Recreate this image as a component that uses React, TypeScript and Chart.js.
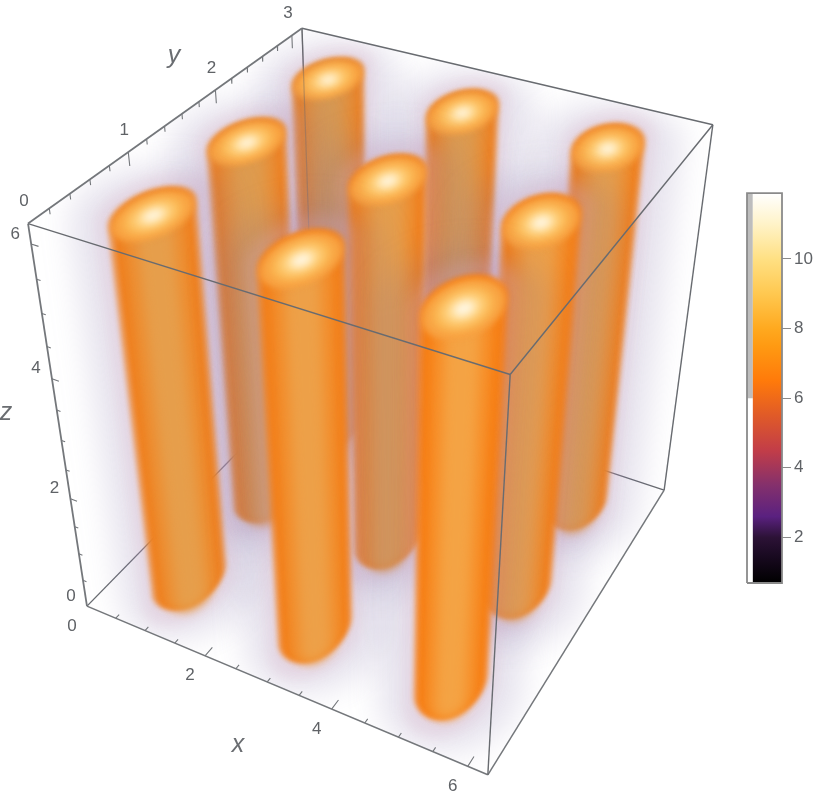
import React, { useEffect, useRef } from "react";
import { Chart, registerables } from "chart.js";

// ---- data (volume field: bright columns on a 3x3 grid) ----
const columnX = [1.05, 3.14, 5.24];
const columnY = [0.52, 1.57, 2.62];
const columnBottom = 0.15;
const columnTop = 6.2;
const boxX = 6.283;
const boxY = 3.142;
const boxZ = 6.283;
const radiusX = 0.42;
const radiusY = 0.33;

const xMajor = [0, 2, 4, 6];
const yMajor = [0, 1, 2, 3];
const zMajor = [0, 2, 4, 6];
const xMinor = [0.5, 1, 1.5, 2.5, 3, 3.5, 4.5, 5, 5.5];
const yMinor = [0.2, 0.4, 0.6, 0.8, 1.2, 1.4, 1.6, 1.8, 2.2, 2.4, 2.6, 2.8];
const zMinor = [0.5, 1, 1.5, 2.5, 3, 3.5, 4.5, 5, 5.5];

const barMin = 0.69;
const barMax = 11.89;
const barOpacityFrom = 6;
const barStops: [number, string][] = [
  [0.69, "#000000"], [1.5, "#1a0a22"], [2.0, "#2c1236"], [2.6, "#5a2180"], [3.5, "#84306c"],
  [4.5, "#c23d48"], [5.5, "#e05a28"], [6.5, "#ff7a0a"], [7.5, "#ff9a12"], [8.0, "#ffa91f"],
  [9.0, "#ffc850"], [10.0, "#ffe083"], [11.0, "#fff3c8"], [11.89, "#ffffff"],
];

// ---- camera calibration: box corner (x, y, z) -> where it sits on the page ----
const calib: [number, number, number, number, number][] = [
  [0, 0, 0, 87, 606], [boxX, 0, 0, 488, 775], [boxX, boxY, 0, 664, 490], [0, 0, boxZ, 28, 224],
  [boxX, 0, boxZ, 510, 374], [boxX, boxY, boxZ, 713, 125], [0, boxY, boxZ, 302, 28],
];

function solveCamera(): number[] {
  const rows: number[][] = [];
  const rhs: number[] = [];
  for (const [X, Y, Z, u0, v0] of calib) {
    const u = u0 / 800, v = v0 / 800;
    rows.push([X, Y, Z, 1, 0, 0, 0, 0, -u * X, -u * Y, -u * Z]); rhs.push(u);
    rows.push([0, 0, 0, 0, X, Y, Z, 1, -v * X, -v * Y, -v * Z]); rhs.push(v);
  }
  const n = 11;
  const A: number[][] = [];
  for (let i = 0; i < n; i++) {
    const r: number[] = [];
    for (let j = 0; j < n; j++) r.push(rows.reduce((s, row) => s + row[i] * row[j], 0));
    r.push(rows.reduce((s, row, k) => s + row[i] * rhs[k], 0));
    A.push(r);
  }
  for (let c = 0; c < n; c++) {
    let p = c;
    for (let r = c + 1; r < n; r++) if (Math.abs(A[r][c]) > Math.abs(A[p][c])) p = r;
    [A[c], A[p]] = [A[p], A[c]];
    for (let r = 0; r < n; r++) {
      if (r === c) continue;
      const f = A[r][c] / A[c][c];
      for (let k = c; k <= n; k++) A[r][k] -= f * A[c][k];
    }
  }
  return A.map((r, i) => r[n] / r[i]);
}
const cam = solveCamera();
function project(X: number, Y: number, Z: number) {
  const w = cam[8] * X + cam[9] * Y + cam[10] * Z + 1;
  return {
    x: (800 * (cam[0] * X + cam[1] * Y + cam[2] * Z + cam[3])) / w,
    y: (800 * (cam[4] * X + cam[5] * Y + cam[6] * Z + cam[7])) / w,
  };
}

type P = { x: number; y: number };
function hull(pts: P[]): P[] {
  const s = [...pts].sort((a, b) => a.x - b.x || a.y - b.y);
  const cross = (o: P, a: P, b: P) => (a.x - o.x) * (b.y - o.y) - (a.y - o.y) * (b.x - o.x);
  const lo: P[] = [];
  for (const p of s) {
    while (lo.length >= 2 && cross(lo[lo.length - 2], lo[lo.length - 1], p) <= 0) lo.pop();
    lo.push(p);
  }
  const up: P[] = [];
  for (const p of [...s].reverse()) {
    while (up.length >= 2 && cross(up[up.length - 2], up[up.length - 1], p) <= 0) up.pop();
    up.push(p);
  }
  return lo.slice(0, -1).concat(up.slice(0, -1));
}
function ring(cx: number, cy: number, z: number, sx: number, sy = sx): P[] {
  const out: P[] = [];
  for (let i = 0; i < 48; i++) {
    const a = (i / 48) * Math.PI * 2;
    out.push(project(cx + sx * radiusX * Math.cos(a), cy + sy * radiusY * Math.sin(a), z));
  }
  return out;
}
function mix(a: number[], b: number[], t: number, alpha = 1) {
  const c = a.map((v, i) => Math.round(v + (b[i] - v) * t));
  return `rgba(${c[0]},${c[1]},${c[2]},${alpha})`;
}

const lineColor = "#686b70";
function lineDs(points: P[], width = 1.4, color = lineColor) {
  return {
    data: points, showLine: true, pointRadius: 0, borderWidth: width, borderColor: color,
    fill: false, tension: 0, clip: false, spanGaps: false,
  };
}
function shapeDs(points: P[], color: string, blur: number, clipBox = false) {
  return {
    data: points, showLine: true, pointRadius: 0, borderWidth: 0, borderColor: "transparent",
    backgroundColor: color, fill: "shape", tension: 0, blur, clipBox,
  };
}
function edge(a: number[], b: number[], width = 1.4, color = lineColor) {
  return lineDs([project(a[0], a[1], a[2]), project(b[0], b[1], b[2])], width, color);
}
function tickPath(list: [number[], number[]][], width: number) {
  const pts: P[] = [];
  for (const [a, b] of list) {
    pts.push(project(a[0], a[1], a[2]), project(b[0], b[1], b[2]), { x: NaN, y: NaN });
  }
  return lineDs(pts, width, "#74777b");
}

function buildDatasets() {
  const ds: any[] = [];
  // back box edges, behind the volume
  ds.push(edge([0, boxY, 0], [0, boxY, boxZ]), edge([0, 0, 0], [0, boxY, 0]), edge([0, boxY, 0], [boxX, boxY, 0]));

  const cols: { x: number; y: number; t: number }[] = [];
  for (const x of columnX) for (const y of columnY) cols.push({ x, y, t: ((boxX - x) / boxX + y / boxY) / 2 });
  cols.sort((a, b) => b.t - a.t);

  cols.forEach((c, idx) => {
    const silhouette = (s: number, drop = 0) =>
      hull([...ring(c.x, c.y, columnBottom - drop, s), ...ring(c.x, c.y, columnTop, s)]);
    const cap = (s: number) => ring(c.x, c.y, columnTop - 0.05, s);
    const f = Math.max(0, (c.t - 0.15) / 0.7);
    const wide = (sx: number, sy: number) =>
      hull([...ring(c.x, c.y, 0, sx, sy), ...ring(c.x, c.y, boxZ, sx, sy)]);
    ds.push(shapeDs(wide(2.2, 1.65), "rgba(125,112,165,0.19)", 15, true));
    ds.push(shapeDs(wide(1.3, 1.3), "rgba(215,170,195,0.26)", 7, true));
    ds.push(shapeDs(silhouette(1.04), mix([246, 130, 28], [230, 138, 58], f, 0.75), 2.5));
    ds.push(shapeDs(silhouette(0.92, 0.05), mix([246, 126, 20], [232, 130, 42], f), 2));
    ds.push(shapeDs(silhouette(0.72, 0.2), mix([247, 142, 40], [226, 142, 60], f), 5));
    ds.push(shapeDs(silhouette(0.42, 0.38), mix([245, 163, 68], [214, 152, 82], f), 6));
    ds.push(shapeDs(cap(0.98), "#f8a040", 3));
    ds.push(shapeDs(cap(0.75), "#fbb650", 5));
    ds.push(shapeDs(cap(0.5), "#ffd98c", 5.5));
    ds.push(shapeDs(cap(0.25), "#fff6e2", 4));
    // the rear vertical edge shows faintly through the rearmost column
    if (idx === 0) ds.push(edge([0, boxY, boxZ * 0.45], [0, boxY, boxZ], 1.2, "rgba(100,100,100,0.4)"));
  });

  // front box edges and ticks
  ds.push(
    edge([0, 0, 0], [boxX, 0, 0], 1.6, "#74777b"), edge([boxX, 0, 0], [boxX, boxY, 0], 1.5, "#74777b"),
    edge([0, 0, 0], [0, 0, boxZ], 1.8, "#74777b"),
    edge([boxX, 0, 0], [boxX, 0, boxZ]), edge([boxX, boxY, 0], [boxX, boxY, boxZ]),
    edge([0, 0, boxZ], [boxX, 0, boxZ]), edge([boxX, 0, boxZ], [boxX, boxY, boxZ]),
    edge([boxX, boxY, boxZ], [0, boxY, boxZ]), edge([0, boxY, boxZ], [0, 0, boxZ], 1.8, "#74777b"),
  );
  ds.push(tickPath(xMajor.slice(1).map((v) => [[v, 0, 0], [v, 0.09, 0]] as [number[], number[]]), 1.1));
  ds.push(tickPath(xMinor.map((v) => [[v, 0, 0], [v, 0.04, 0]] as [number[], number[]]), 1.1));
  ds.push(tickPath(yMajor.slice(1).map((v) => [[0, v, boxZ], [0, v, boxZ - 0.2]] as [number[], number[]]), 1.1));
  ds.push(tickPath(yMinor.map((v) => [[0, v, boxZ], [0, v, boxZ - 0.08]] as [number[], number[]]), 1.1));
  ds.push(tickPath(zMajor.slice(1).map((v) => [[0, 0, v], [0.11, 0, v]] as [number[], number[]]), 1.1));
  ds.push(tickPath(zMinor.map((v) => [[0, 0, v], [0.06, 0, v]] as [number[], number[]]), 1.1));
  return ds.reverse(); // Chart.js paints the last dataset first
}

const softPlugin = {
  id: "softVolume",
  beforeDatasetDraw(chart: any, args: any) {
    const d = chart.data.datasets[args.index];
    if (!d || d.blur === undefined) return;
    const ctx = chart.ctx;
    ctx.save();
    if (d.clipBox) {
      const box = hull([
        project(0, 0, 0), project(boxX, 0, 0), project(boxX, boxY, 0), project(0, 0, boxZ),
        project(boxX, 0, boxZ), project(boxX, boxY, boxZ), project(0, boxY, boxZ),
      ]);
      ctx.beginPath();
      box.forEach((p, i) => (i ? ctx.lineTo(p.x, p.y) : ctx.moveTo(p.x, p.y)));
      ctx.closePath();
      ctx.clip();
    }
    ctx.filter = `blur(${d.blur}px)`;
  },
  afterDatasetDraw(chart: any, args: any) {
    const d = chart.data.datasets[args.index];
    if (!d || d.blur === undefined) return;
    chart.ctx.filter = "none";
    chart.ctx.restore();
  },
};
// Must run before the filler plugin so that fills are blurred.
Chart.register(softPlugin);
Chart.register(...registerables);

const labelPlugin = {
  id: "axisText",
  afterDatasetsDraw(chart: any) {
    const ctx = chart.ctx;
    ctx.save();
    ctx.fillStyle = "#5f6266";
    ctx.textAlign = "center";
    ctx.textBaseline = "middle";
    ctx.font = "17px 'Liberation Sans'";
    const put = (t: string, p: P, dx: number, dy: number) => ctx.fillText(t, p.x + dx, p.y + dy);
    xMajor.forEach((v) => put(String(v), project(v, 0, 0), -15, 20));
    yMajor.forEach((v) => put(String(v), project(0, v, boxZ), -4, -22));
    zMajor.forEach((v) => put(String(v), project(0, 0, v), -16, -10));
    ctx.fillStyle = "#6a6d71";
    ctx.font = "italic 25px 'Liberation Sans'";
    ctx.fillText("x", 238, 745);
    ctx.fillText("y", 174, 56);
    ctx.fillText("z", 6, 413);
    ctx.restore();
  },
};

export default function App() {
  const mainRef = useRef<HTMLCanvasElement>(null);
  const barRef = useRef<HTMLCanvasElement>(null);

  useEffect(() => {
    const main = new Chart(mainRef.current!, {
      type: "scatter",
      data: { datasets: buildDatasets() },
      options: {
        animation: false, responsive: false, devicePixelRatio: 1,
        layout: { padding: 0 },
        plugins: { legend: { display: false }, tooltip: { enabled: false } },
        events: [],
        scales: {
          x: { type: "linear", min: 0, max: 830, display: false },
          y: { type: "linear", min: 0, max: 805, reverse: true, display: false },
        },
      },
      plugins: [labelPlugin],
    } as any);

    const rect = (x0: number, x1: number, y0: number, y1: number) => [
      { x: x0, y: y0 }, { x: x1, y: y0 }, { x: x1, y: y1 }, { x: x0, y: y1 }, { x: x0, y: y0 },
    ];
    const gradient = (c: any) => {
      const { chart } = c;
      const a = chart.chartArea;
      if (!a) return "#ff9a12";
      const g = chart.ctx.createLinearGradient(0, a.bottom, 0, a.top);
      for (const [v, col] of barStops) g.addColorStop((v - barMin) / (barMax - barMin), col);
      return g;
    };
    const shape = (pts: any, bg: any, line = "transparent", w = 0) => ({
      data: pts, showLine: true, pointRadius: 0, fill: "shape", backgroundColor: bg,
      borderColor: line, borderWidth: w, tension: 0, clip: false,
    });
    const bar = new Chart(barRef.current!, {
      type: "scatter",
      data: {
        datasets: [
          shape(rect(0, 6, barMin, barMax), "transparent", "#8a8a8a", 1.8),
          shape(rect(1, 6, barMin, barMax), gradient),
          shape(rect(0, 1, barOpacityFrom, barMax), "#bdbdbd"),
          shape(rect(0, 1, barMin, barOpacityFrom), "#ffffff"),
        ],
      },
      options: {
        animation: false, responsive: false, devicePixelRatio: 1,
        layout: { padding: { left: 27, right: 0, top: 11, bottom: 17 } },
        plugins: { legend: { display: false }, tooltip: { enabled: false } },
        events: [],
        scales: {
          x: { type: "linear", min: 0, max: 6, display: false },
          y: {
            type: "linear", position: "right", min: barMin, max: barMax,
            afterFit: (s: any) => { s.width = 48; },
            border: { display: false },
            grid: { drawOnChartArea: false, tickLength: 9, tickColor: "#8a8a8a", tickWidth: 1 },
            ticks: {
              stepSize: 2, includeBounds: false, padding: 3, color: "#5f6266", autoSkip: false, maxRotation: 0,
              font: { family: "'Liberation Sans'", size: 17 },
              callback: (v: any) => String(v),
            },
          },
          minor: {
            type: "linear", position: "right", min: barMin, max: barMax,
            afterFit: (s: any) => { s.width = 0; },
            border: { display: false },
            grid: { drawOnChartArea: false, tickLength: 5, tickColor: "#8a8a8a", tickWidth: 1 },
            ticks: { stepSize: 0.5, includeBounds: false, display: false, autoSkip: false },
          },
        },
      },
    } as any);
    return () => { main.destroy(); bar.destroy(); };
  }, []);

  return (
    <div style={{ position: "absolute", left: 0, top: 0, width: 830, height: 805, overflow: "hidden", background: "#fff", filter: "blur(0.45px)" }}>
      <canvas ref={mainRef} width={830} height={805} style={{ position: "absolute", left: 0, top: 0 }} />
      <canvas ref={barRef} width={110} height={420} style={{ position: "absolute", left: 720, top: 180 }} />
    </div>
  );
}
